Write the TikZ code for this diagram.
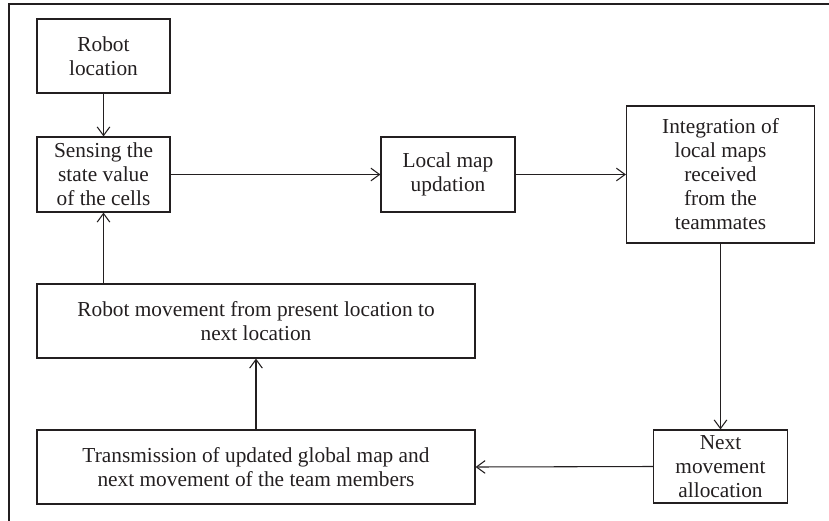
\documentclass[tikz,border=0pt]{standalone}
\usepackage{fontspec}
\setmainfont{Liberation Serif}
\usetikzlibrary{arrows.meta}
\definecolor{ink}{HTML}{231F20}
\begin{document}
\begin{tikzpicture}[x=0.75pt,y=-0.75pt,
  procbox/.style={draw=ink,line width=0.85pt,rectangle,inner sep=0pt,align=center,
    text=ink,font=\fontsize{16}{18}\selectfont},
  flow/.style={draw=ink,line width=0.8pt,-{Straight Barb[length=6.5pt,width=9.5pt,line width=0.8pt]}}]
\useasboundingbox (0,0) rectangle (829,521);
% outer frame (left and top edges)
\coordinate (fbl) at (9,521);
\coordinate (ftl) at (9,4);
\coordinate (ftr) at (829,4);
\draw[ink,line width=0.9pt] (fbl) -- (ftl) -- (ftr);
% process boxes
\node[procbox,minimum width=99.75pt,minimum height=55.5pt] (rl) at (103.5,56) {Robot\\location};
\node[procbox,minimum width=99.75pt,minimum height=56.25pt] (sense) at (103.5,174.5) {Sensing the\\state value\\of the cells};
\node[procbox,minimum width=100.5pt,minimum height=56.25pt] (local) at (448,174.5) {Local map\\updation};
\node[procbox,minimum width=141pt,minimum height=102.75pt] (integ) at (720.5,174.5) {Integration of\\local maps\\received\\from the\\teammates};
\node[procbox,minimum width=100.5pt,minimum height=54.75pt] (next) at (720.5,466.5) {Next\\movement\\allocation};
\node[procbox,minimum width=328.5pt,minimum height=55.5pt] (trans) at (256,467) {Transmission of updated global map and\\next movement of the team members};
\node[procbox,minimum width=328.5pt,minimum height=55.5pt] (move) at (256,321) {Robot movement from present location to\\next location};
% connectors
\draw[flow] (rl.south) -- (sense.north);
\draw[flow] (sense.east) -- (local.west);
\draw[flow] (local.east) -- (integ.west);
\draw[flow] (integ.south) -- (next.north);
\draw[flow] (next.west) -- (trans.east);
\draw[flow] (trans.north) -- (move.south);
\draw[flow] (sense.south |- move.north) -- (sense.south);
\end{tikzpicture}
\end{document}
